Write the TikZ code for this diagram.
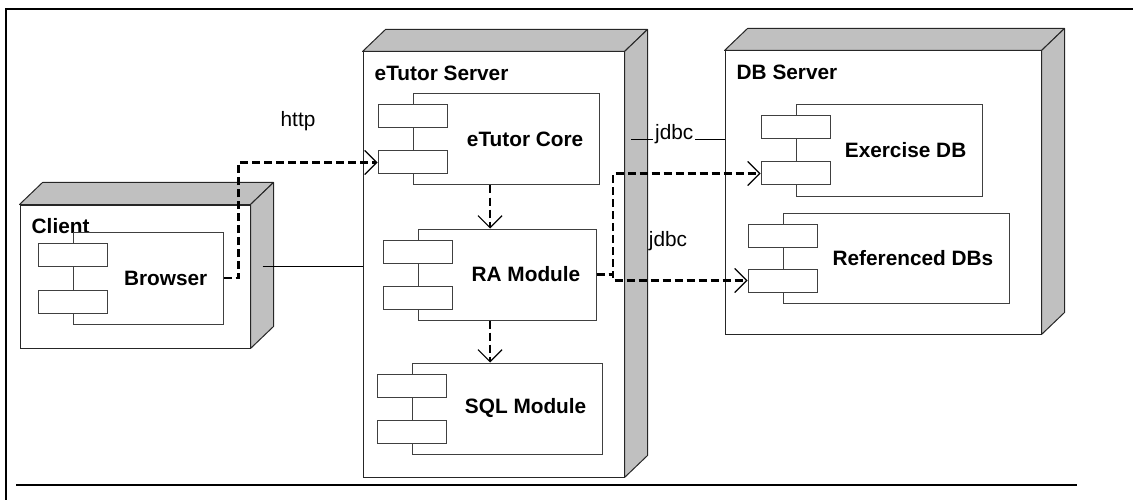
\documentclass[tikz,border=0pt]{standalone}
\usepackage{fontspec}
\setmainfont{Liberation Sans}
\usetikzlibrary{arrows.meta,calc}
\definecolor{nodegray}{HTML}{C0C0C0}
\newcommand\depnode[6]{% name x1 y1 x2 y2 label
  \node[front, minimum width={(#4-#2)*1pt}, minimum height={(#5-#3)*1pt}] (#1) at ({(#2+#4)/2},{(#3+#5)/2}) {};
  \filldraw[face] (#1.north west) -- ++(23,-22) -- ([shift={(23,-22)}]#1.north east) -- (#1.north east) -- cycle;
  \filldraw[face] (#1.north east) -- ([shift={(23,-22)}]#1.north east) -- ([shift={(23,-22)}]#1.south east) -- (#1.south east) -- cycle;
  \node[boldlbl, anchor=north west] (#1-lbl) at ([shift={(12,14)}]#1.north west) {#6};
}
\newcommand\compnode[6]{% name x1 y1 x2 y2 label
  \node[compbox, minimum width={(#4-#2)*1pt}, minimum height={(#5-#3)*1pt}] (#1) at ({(#2+#4)/2},{(#3+#5)/2}) {};
  \node[boldlbl, anchor=east] (#1-lbl) at ([xshift=-16pt]#1.east) {#6};
  \node[port] (#1-p1) at ([yshift=-23pt]#1.north west) {};
  \node[port] (#1-p2) at ([yshift=23pt]#1.south west) {};
}
\begin{document}
\begin{tikzpicture}[x=1pt,y=-1pt,
  front/.style={draw=black!85, fill=white, line width=1pt, inner sep=0pt},
  face/.style={draw=black!85, fill=nodegray, line width=1pt, line join=round},
  compbox/.style={draw=black!75, fill=white, line width=1pt, inner sep=0pt},
  port/.style={draw=black!75, fill=white, line width=1pt, inner sep=0pt, minimum width=69pt, minimum height=23pt},
  boldlbl/.style={font=\fontsize{20.8}{24}\selectfont\bfseries, inner sep=0pt},
  plainlbl/.style={font=\fontsize{20.8}{24}\selectfont, inner sep=0pt},
  dep/.style={dash pattern=on 8pt off 4pt, line width=2.4pt, -{Straight Barb[line width=1.2pt, length=12pt, width=24pt]}},
  link/.style={line width=1pt, draw=black},
  frameline/.style={line width=2.5pt}
]
\useasboundingbox (0,0) rectangle (1133,500);
% frame
\draw[frameline] (6,500) -- (6,9) -- (1133,9);
\draw[frameline] (16,485) -- (1077,485);
% deployment nodes
\depnode{client}{20}{205}{250}{348}{Client}
\depnode{etutor}{363}{52}{624}{477}{eTutor Server}
\depnode{db}{725}{51}{1041}{334}{DB Server}
% components
\compnode{browser}{73}{232}{223}{324}{Browser}
\compnode{core}{413}{94}{599}{185}{eTutor Core}
\compnode{ra}{418}{229}{596}{320}{RA Module}
\compnode{sql}{412}{363}{602}{454}{SQL Module}
\compnode{exdb}{796}{105}{982}{196}{Exercise DB}
\compnode{refdb}{783}{213}{1009}{303}{Referenced DBs}
% connectors
\draw[dep] (browser.east) -- ++(15,0) |- (core-p2.west);
\node[plainlbl] (http) at (298,121) {http};
\draw[dep] ([xshift=-16pt]core.south) -- ([xshift=-16pt]core.south |- ra.north);
\draw[dep] ([xshift=-17pt]ra.south) -- ([xshift=-17pt]ra.south |- sql.north);
\coordinate (split) at (613,280);
\draw[dep] (ra.east) -| (split |- exdb-p2.west) -- (exdb-p2.west);
\draw[dep] (ra.east) -- (ra.east -| split) |- (refdb-p2.west);
\coordinate (cl-a) at ([xshift=12pt,yshift=10.5pt]client.east);
\draw[link] (cl-a) -- (cl-a -| etutor.west);
\coordinate (et-j) at (631,140);
\draw[link] (et-j) -- (et-j -| db.west) node[plainlbl, pos=0.463, anchor=base, fill=white, inner xsep=2pt] (jdbc1) {jdbc};
\node[plainlbl] (jdbc2) at (668,241) {jdbc};
\end{tikzpicture}
\end{document}
